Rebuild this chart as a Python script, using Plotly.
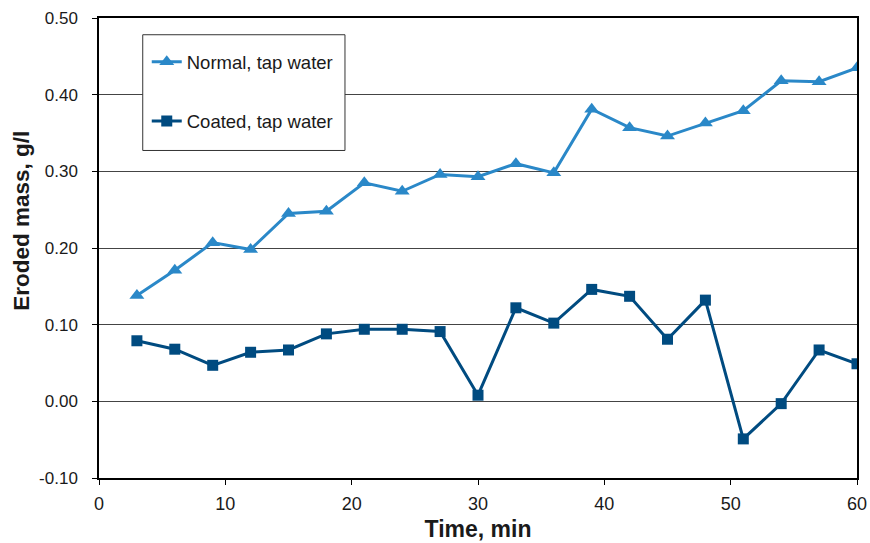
import plotly.graph_objects as go

# Sampling times (min)
time_min = [3, 6, 9, 12, 15, 18, 21, 24, 27, 30, 33, 36, 39, 42, 45, 48, 51, 54, 57, 60]

# Eroded mass (g/l)
normal_tap = [0.138, 0.171, 0.207, 0.198, 0.245, 0.248, 0.285, 0.274, 0.296, 0.293,
              0.310, 0.298, 0.381, 0.357, 0.346, 0.363, 0.379, 0.418, 0.417, 0.435]
coated_tap = [0.079, 0.068, 0.047, 0.064, 0.067, 0.088, 0.094, 0.094, 0.091, 0.008,
              0.122, 0.102, 0.146, 0.137, 0.081, 0.132, -0.049, -0.003, 0.067, 0.049]

y_ticks = [-0.10, 0.00, 0.10, 0.20, 0.30, 0.40, 0.50]
x_ticks = [0, 10, 20, 30, 40, 50, 60]

FONT = "Liberation Sans, Arial, sans-serif"

fig = go.Figure()
fig.add_trace(go.Scatter(
    x=time_min, y=normal_tap, name="Normal, tap water", mode="lines+markers",
    line=dict(color="#2a88c8", width=3),
    marker=dict(symbol="triangle-up", size=13, color="#2a88c8"),
    legendgroup="a",
))
fig.add_trace(go.Scatter(
    x=time_min, y=coated_tap, name="Coated, tap water", mode="lines+markers",
    line=dict(color="#004b80", width=3),
    marker=dict(symbol="square", size=11, color="#004b80"),
    legendgroup="b",
))

# White framed box behind the legend entries
fig.add_shape(type="rect", xref="paper", yref="paper",
              x0=0.0577, x1=0.3245, y0=0.712, y1=0.9636,
              line=dict(color="#333", width=1), fillcolor="white", layer="above")

# Vertical axis title, placed a little above the middle of the axis
fig.add_annotation(text="<b>Eroded mass, g/l</b>", textangle=-90,
                   xref="paper", yref="paper", x=-0.1016, y=0.559,
                   xanchor="center", yanchor="middle", showarrow=False,
                   font=dict(size=22.5, family=FONT, color="#1a1a1a"))

fig.update_layout(
    width=870, height=543,
    margin=dict(l=99, r=13, t=18, b=65, autoexpand=False),
    paper_bgcolor="white", plot_bgcolor="white",
    font=dict(family=FONT, color="#1a1a1a"),
    showlegend=True,
    legend=dict(
        x=0.063, y=0.945, xanchor="left", yanchor="top",
        bgcolor="rgba(0,0,0,0)", borderwidth=0,
        font=dict(size=18.5, family=FONT, color="#1a1a1a"),
        tracegroupgap=32, itemwidth=30,
    ),
    xaxis=dict(
        range=[0, 60], tickvals=x_ticks, ticktext=[str(v) for v in x_ticks],
        showgrid=False, zeroline=False, automargin=False,
        showline=True, linecolor="black", linewidth=1.5, mirror=True,
        ticks="outside", ticklen=5, tickcolor="black", ticklabelstandoff=4,
        tickfont=dict(size=18),
        title=dict(text="<b>Time, min</b>", standoff=8, font=dict(size=23)),
    ),
    yaxis=dict(
        range=[-0.10, 0.50], tickvals=y_ticks, ticktext=[f"{v:.2f}" for v in y_ticks],
        showgrid=True, gridcolor="#444", gridwidth=1, zeroline=False, automargin=False,
        showline=True, linecolor="black", linewidth=1.5, mirror=True,
        ticks="outside", ticklen=5, tickcolor="black", ticklabelstandoff=11,
        tickfont=dict(size=17),
    ),
)

fig.write_html("out.html")
